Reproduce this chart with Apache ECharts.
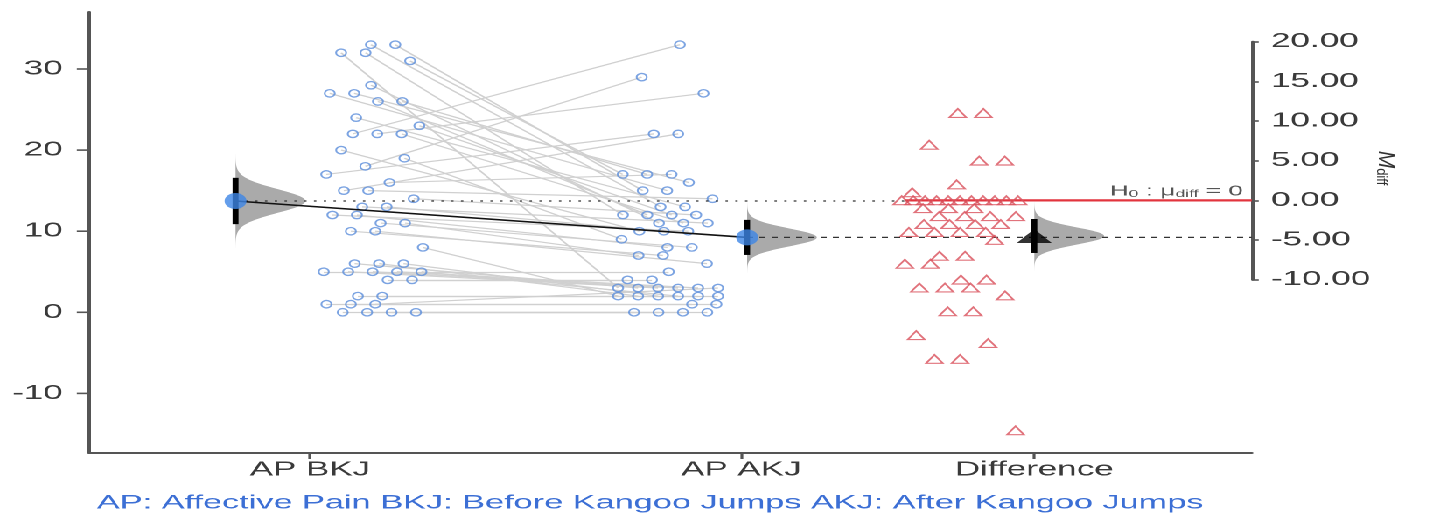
<!DOCTYPE html>
<html>
<head>
<meta charset="utf-8">
<title>Affective pain before and after Kangoo Jumps</title>
<script src="https://cdn.jsdelivr.net/npm/echarts@6/dist/echarts.min.js"></script>
<style>
  html, body { margin: 0; padding: 0; background: #fff; overflow: hidden; width: 1433px; height: 516px; }
  #wrap { width: 1433px; height: 516px; overflow: hidden; }
  /* the plot is laid out on a narrow canvas and widened horizontally */
  #chart { width: 819px; height: 516px; transform: scaleX(1.7497); transform-origin: 0 0; }
</style>
</head>
<body>
<div id="wrap"><div id="chart"></div></div>
<script>
// ---- data ---------------------------------------------------------------
const groupNames = ['AP BKJ', 'AP AKJ', 'Difference'];

// affective pain scores, same index = same participant
const beforeKJ = [33, 33, 32, 32, 31, 28, 27, 27, 26, 26, 24, 23, 22, 22, 22, 20, 19, 18, 17, 16,
                  15, 15, 14, 13, 13, 12, 12, 11, 11, 10, 10, 8, 6, 6, 6, 5, 5, 5, 5, 5,
                  4, 4, 2, 2, 1, 1, 1, 0, 0, 0, 0];
const afterKJ  = [13, 15, 3, 12, 17, 11, 15, 16, 12, 17, 13, 12, 33, 27, 11, 10, 9, 29, 22, 17,
                  22, 14, 12, 11, 10, 10, 8, 8, 7, 7, 6, 2, 3, 2, 2, 5, 3, 3, 3, 2,
                  4, 4, 2, 2, 1, 1, 3, 0, 0, 0, 0];

// paired differences (after - before)
const diffKJ = [11, 11, 7, 5, 5, 2, 1, 0, 0, 0, 0, 0, 0, 0, 0, 0, 0, 0,
                -1, -1, -1, -2, -2, -2, -2, -3, -3, -3, -3, -4, -4, -4, -4, -5,
                -7, -7, -8, -8, -10, -10, -11, -11, -11, -12, -14, -14, -17, -18, -20, -20, -29];

const leftTicks = [-10, 0, 10, 20, 30];
const rightTickRange = [-10, 20];
const rightTickStep = 5;
const caption = 'AP: Affective Pain BKJ: Before Kangoo Jumps AKJ: After Kangoo Jumps';

// ---- layout (percent of the horizontal axis) -----------------------------
const X = {
  tick:  [19.0, 56.1, 81.3],
  mean:  [12.6, 56.6, 81.3],
  swarm: [24.5, 49.8, 74.9],
  half:  [4.4, 4.3, 5.0],
  h0Start: 70.2,
  violin: 6.0
};
// vertical layout of the left scale (pixels)
const plotTop = 12, plotBottom = 453, zeroY = 312.3, pxPerUnit = 8.11;
const tickLen = 6;

// ---- helpers ------------------------------------------------------------
function stats(a) {
  const n = a.length;
  const m = a.reduce((s, v) => s + v, 0) / n;
  const sd = Math.sqrt(a.reduce((s, v) => s + (v - m) * (v - m), 0) / (n - 1));
  const se = sd / Math.sqrt(n);
  return { m: m, se: se, lo: m - 1.96 * se, hi: m + 1.96 * se };
}

// spreads tied values side by side within a band around the group centre
function swarm(values, center, half, gap) {
  const rows = {};
  values.forEach((v, i) => { (rows[v] = rows[v] || []).push(i); });
  const xs = new Array(values.length);
  Object.keys(rows).map(Number).sort((a, b) => b - a).forEach((k, r) => {
    const idx = rows[k];
    const n = idx.length;
    const sp = n > 1 ? Math.min(gap, 2 * half / (n - 1)) : 0;
    const span = (n - 1) * sp;
    const room = 2 * half - span;
    const phase = ((r + 1) * 0.618034) % 1 - 0.5;
    const start = center - span / 2 + phase * room;
    idx.forEach((i, j) => { xs[i] = start + j * sp; });
  });
  return xs;
}

function violin(st, x0, axisIdx) {
  return {
    type: 'custom', xAxisIndex: axisIdx, yAxisIndex: axisIdx, silent: true, z: 3,
    data: [[x0, st.m]],
    renderItem: function (params, api) {
      const pts = [];
      for (let k = -40; k <= 40; k++) {
        const z = k / 10;
        pts.push(api.coord([x0 + X.violin * Math.exp(-z * z / 2), st.m + z * st.se]));
      }
      for (let k = 40; k >= -40; k--) pts.push(api.coord([x0, st.m + k / 10 * st.se]));
      return { type: 'polygon', shape: { points: pts }, style: { fill: '#aaaaaa' } };
    }
  };
}

function segment(p1, p2, axisIdx, style, z) {
  return {
    type: 'line', xAxisIndex: axisIdx, yAxisIndex: axisIdx, data: [p1, p2],
    symbol: 'none', silent: true, z: z, lineStyle: style, clip: false
  };
}

// ---- derived -------------------------------------------------------------
const sB = stats(beforeKJ), sA = stats(afterKJ), sD = stats(diffKJ);
const xb = swarm(beforeKJ, X.swarm[0], X.half[0], 2.1);
const xa = swarm(afterKJ,  X.swarm[1], X.half[1], 2.1);
const xd = swarm(diffKJ,   X.swarm[2], X.half[2], 2.2);

const font = 'Liberation Sans, Arial, Helvetica, sans-serif';
const axisGrey = '#555555';
const textGrey = '#3a3a3a';

const leftMin = (zeroY - plotBottom) / pxPerUnit;
const leftMax = (zeroY - plotTop) / pxPerUnit;

const chart = echarts.init(document.getElementById('chart'), null, { devicePixelRatio: 2 });

chart.setOption({
  animation: false,
  backgroundColor: '#ffffff',
  textStyle: { fontFamily: font },
  grid: [
    { left: 50.9, top: plotTop, width: 664.5, height: plotBottom - plotTop },
    { left: 50.9, top: 41.7, width: 664.5, height: 238 }
  ],
  xAxis: [
    {
      type: 'value', gridIndex: 0, min: 0, max: 100,
      splitLine: { show: false },
      axisLine: { show: true, onZero: false, lineStyle: { color: axisGrey, width: 2 } },
      axisTick: { show: true, customValues: X.tick, length: tickLen, lineStyle: { color: axisGrey, width: 1.6 } },
      axisLabel: {
        customValues: X.tick, margin: 7, fontSize: 20, color: textGrey, fontFamily: font,
        formatter: function (v) {
          let best = 0;
          X.tick.forEach((t, i) => { if (Math.abs(t - v) < Math.abs(X.tick[best] - v)) best = i; });
          return groupNames[best];
        }
      }
    },
    { type: 'value', gridIndex: 1, min: 0, max: 100, show: false }
  ],
  yAxis: [
    {
      type: 'value', gridIndex: 0, min: leftMin, max: leftMax, position: 'left',
      splitLine: { show: false },
      axisLine: { show: true, onZero: false, lineStyle: { color: axisGrey, width: 2 } },
      axisTick: { show: false },
      axisLabel: { customValues: leftTicks, margin: 15, fontSize: 20, color: textGrey, fontFamily: font }
    },
    {
      type: 'value', gridIndex: 1, min: rightTickRange[0], max: rightTickRange[1],
      interval: rightTickStep, position: 'right',
      splitLine: { show: false },
      axisLine: { show: true, onZero: false, lineStyle: { color: axisGrey, width: 2 } },
      axisTick: { show: true, length: 4, lineStyle: { color: axisGrey, width: 1.6 } },
      axisLabel: { margin: 11, fontSize: 20, color: textGrey, fontFamily: font,
                   formatter: v => v.toFixed(2) }
    }
  ],
  series: [
    {
      // tick marks of the left scale
      type: 'custom', xAxisIndex: 0, yAxisIndex: 0, silent: true, clip: false, z: 8,
      data: leftTicks.map(v => [0, v]),
      renderItem: function (params, api) {
        const p = api.coord([0, api.value(1)]);
        return {
          type: 'line',
          shape: { x1: p[0] - tickLen - 1, y1: p[1], x2: p[0], y2: p[1] },
          style: { stroke: axisGrey, lineWidth: 1.6 }
        };
      }
    },
    {
      type: 'lines', coordinateSystem: 'cartesian2d', xAxisIndex: 0, yAxisIndex: 0, silent: true, z: 1,
      lineStyle: { color: '#d0d0d0', width: 1.2, opacity: 1 },
      data: beforeKJ.map((b, i) => ({ coords: [[xb[i], b], [xa[i], afterKJ[i]]] }))
    },
    {
      type: 'scatter', xAxisIndex: 0, yAxisIndex: 0, z: 2, silent: true,
      symbol: 'circle', symbolSize: [5.8, 7.4],
      itemStyle: { color: 'rgba(255,255,255,0)', borderColor: '#5b8ddb', borderWidth: 1.2 },
      data: beforeKJ.map((b, i) => [xb[i], b])
    },
    {
      type: 'scatter', xAxisIndex: 0, yAxisIndex: 0, z: 2, silent: true,
      symbol: 'circle', symbolSize: [5.8, 7.4],
      itemStyle: { color: 'rgba(255,255,255,0)', borderColor: '#5b8ddb', borderWidth: 1.2 },
      data: afterKJ.map((a, i) => [xa[i], a])
    },
    violin(sB, X.mean[0], 0),
    violin(sA, X.mean[1], 0),
    violin(sD, X.mean[2], 1),
    segment([X.mean[0], sB.m], [X.h0Start, sB.m], 0, { color: '#333', width: 1.3, type: [1.4, 4.2] }, 4),
    segment([X.mean[1], sA.m], [100, sA.m], 0, { color: '#333', width: 1.2, type: [3.5, 3.5] }, 4),
    segment([X.h0Start, 0], [100, 0], 1, { color: '#e2343e', width: 2.2 }, 4),
    segment([X.mean[0], sB.m], [X.mean[1], sA.m], 0, { color: '#111', width: 1.6 }, 5),
    segment([X.mean[0], sB.lo], [X.mean[0], sB.hi], 0, { color: '#000', width: 3.4 }, 6),
    segment([X.mean[1], sA.lo], [X.mean[1], sA.hi], 0, { color: '#000', width: 3.4 }, 6),
    segment([X.mean[2], sD.lo], [X.mean[2], sD.hi], 1, { color: '#000', width: 3.4 }, 6),
    {
      type: 'scatter', xAxisIndex: 0, yAxisIndex: 0, z: 7, silent: true,
      symbol: 'circle', symbolSize: [12.5, 16],
      itemStyle: { color: '#3d86e6' },
      data: [[X.mean[0], sB.m], [X.mean[1], sA.m]]
    },
    {
      type: 'scatter', xAxisIndex: 1, yAxisIndex: 1, z: 5, silent: true, clip: false,
      symbol: 'triangle', symbolSize: [9.6, 8.6],
      itemStyle: { color: 'rgba(255,255,255,0)', borderColor: '#d9505b', borderWidth: 1.2 },
      data: diffKJ.map((d, i) => [xd[i], d])
    },
    {
      type: 'scatter', xAxisIndex: 1, yAxisIndex: 1, z: 7, silent: true,
      symbol: 'triangle', symbolSize: [20, 14],
      itemStyle: { color: '#000' },
      data: [[X.mean[2], sD.m]]
    },
    {
      type: 'scatter', xAxisIndex: 1, yAxisIndex: 1, z: 7, silent: true,
      symbolSize: 0,
      data: [[100, 0]],
      label: {
        show: true, position: 'left', distance: 5, offset: [0, -9],
        formatter: '{h|H}{s|0}{h| : μ}{s|diff}{h| = 0}',
        rich: {
          h: { fontSize: 15, color: '#2a2a2a', fontFamily: font },
          s: { fontSize: 10, color: '#2a2a2a', fontFamily: font, verticalAlign: 'bottom', padding: [6, 0, 0, 0] }
        }
      }
    }
  ],
  graphic: [
    {
      type: 'text', x: 791.4, y: 168, rotation: -Math.PI / 2, scaleY: 0.6, silent: true,
      style: {
        text: '{m|M}{d|diff}', align: 'center', verticalAlign: 'middle',
        rich: {
          m: { fontSize: 21, fontStyle: 'italic', fill: '#333', fontFamily: font },
          d: { fontSize: 13, fill: '#333', fontFamily: font, verticalAlign: 'bottom', padding: [8, 0, 0, 0] }
        }
      }
    },
    {
      type: 'text', x: 55.4, y: 503, silent: true,
      style: { text: caption, fontSize: 19.6, fill: '#3c6fd5', fontFamily: font, verticalAlign: 'middle' }
    }
  ]
});
</script>
</body>
</html>
